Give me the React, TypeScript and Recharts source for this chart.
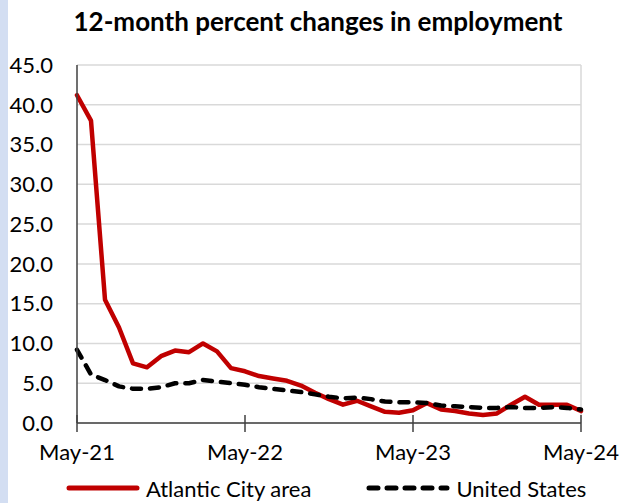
import React from "react";
import {
  LineChart,
  Line,
  XAxis,
  YAxis,
  CartesianGrid,
  Legend,
  ReferenceLine,
} from "recharts";

const FONT = "Lato, 'Open Sans', sans-serif";

// monthly categories, May-21 .. May-24
const months = [
  "May-21", "Jun-21", "Jul-21", "Aug-21", "Sep-21", "Oct-21", "Nov-21", "Dec-21",
  "Jan-22", "Feb-22", "Mar-22", "Apr-22", "May-22", "Jun-22", "Jul-22", "Aug-22",
  "Sep-22", "Oct-22", "Nov-22", "Dec-22", "Jan-23", "Feb-23", "Mar-23", "Apr-23",
  "May-23", "Jun-23", "Jul-23", "Aug-23", "Sep-23", "Oct-23", "Nov-23", "Dec-23",
  "Jan-24", "Feb-24", "Mar-24", "Apr-24", "May-24",
];

const atlanticCity = [
  41.2, 38.0, 15.5, 12.0, 7.5, 7.0, 8.4, 9.1, 8.9, 10.0, 9.0, 6.9, 6.5,
  5.9, 5.6, 5.3, 4.7, 3.8, 3.0, 2.3, 2.8, 2.1, 1.4, 1.3, 1.6, 2.5, 1.7,
  1.5, 1.2, 1.0, 1.2, 2.3, 3.3, 2.3, 2.3, 2.3, 1.5,
];

const unitedStates = [
  9.2, 6.1, 5.4, 4.6, 4.3, 4.3, 4.5, 5.0, 5.0, 5.4, 5.2, 5.0, 4.8,
  4.5, 4.3, 4.1, 3.9, 3.6, 3.3, 3.1, 3.2, 3.0, 2.7, 2.6, 2.6, 2.5, 2.2,
  2.1, 2.0, 1.9, 1.9, 2.0, 1.9, 1.9, 2.0, 1.9, 1.7,
];

const yTicks = [0, 5, 10, 15, 20, 25, 30, 35, 40, 45];

const series = [
  { key: "ac", name: "Atlantic City area", color: "#c00000", dash: undefined },
  { key: "us", name: "United States", color: "#000000", dash: "9 9" },
];

const data = months.map((m, i) => ({
  month: m,
  ac: atlanticCity[i],
  us: unitedStates[i],
}));

// Excel-style "cross" tick mark with label under it
const CrossTick = (props: any) => {
  const { x, y, payload } = props;
  return (
    <g>
      <line x1={x} x2={x} y1={y - 8} y2={y + 9} stroke="#404040" strokeWidth={1.5} />
      <text
        x={x}
        y={y + 37}
        textAnchor="middle"
        fontSize={22}
        fill="#000"
        fontFamily={FONT}
      >
        {payload.value}
      </text>
    </g>
  );
};

const LegendContent = () => (
  <div
    style={{
      display: "flex",
      alignItems: "center",
      height: 30,
      paddingLeft: 66,
      fontFamily: FONT,
      fontSize: 22,
      color: "#000",
      whiteSpace: "nowrap",
    }}
  >
    {series.map((s, i) => (
      <div
        key={s.key}
        style={{ display: "flex", alignItems: "center", marginLeft: i ? 55 : 0 }}
      >
        <svg width={s.dash ? 84 : 74} height={10} style={{ marginRight: 6 }}>
          <line
            x1={3}
            x2={s.dash ? 81 : 71}
            y1={5}
            y2={5}
            stroke={s.color}
            strokeWidth={5}
            strokeLinecap="round"
            strokeDasharray={s.dash}
          />
        </svg>
        <span>{s.name}</span>
      </div>
    ))}
  </div>
);

export default function App() {
  return (
    <div
      style={{
        position: "fixed",
        top: 0,
        left: 0,
        width: 621,
        height: 503,
        background: "#fff",
        overflow: "hidden",
      }}
    >
      <div
        style={{
          position: "absolute",
          left: 0,
          top: 0,
          width: 8,
          height: 503,
          background: "#d3def2",
        }}
      />
      <div
        style={{
          position: "absolute",
          top: 3,
          left: 0,
          width: 636,
          textAlign: "center",
          fontFamily: FONT,
          fontWeight: 700,
          fontSize: 26,
          lineHeight: "36px",
          color: "#000",
          whiteSpace: "nowrap",
        }}
      >
        12-month percent changes in employment
      </div>
      <LineChart
        width={621}
        height={503}
        data={data}
        margin={{ top: 65, right: 40, left: 0, bottom: 0 }}
      >
        <CartesianGrid vertical={false} stroke="#d9d9d9" strokeWidth={1.5} />
        <ReferenceLine x="May-24" stroke="#d9d9d9" strokeWidth={1.5} />
        <XAxis
          dataKey="month"
          interval={11}
          tick={<CrossTick />}
          tickLine={false}
          tickSize={0}
          tickMargin={0}
          height={50}
          axisLine={{ stroke: "#404040", strokeWidth: 1.5 }}
        />
        <YAxis
          domain={[0, 45]}
          ticks={yTicks}
          width={77}
          tickLine={false}
          tickSize={0}
          tickMargin={24}
          tickFormatter={(v: number) => v.toFixed(1)}
          tick={{ fontSize: 22, fill: "#000", fontFamily: FONT }}
          axisLine={{ stroke: "#404040", strokeWidth: 1.5 }}
        />
        <Legend
          verticalAlign="bottom"
          content={<LegendContent />}
          wrapperStyle={{ left: 0, width: 621, bottom: 0 }}
        />
        {series.map((s) => (
          <Line
            key={s.key}
            dataKey={s.key}
            name={s.name}
            type="linear"
            stroke={s.color}
            strokeWidth={4.5}
            strokeDasharray={s.dash}
            strokeLinecap="round"
            strokeLinejoin="round"
            dot={false}
            activeDot={false}
            isAnimationActive={false}
          />
        ))}
      </LineChart>
    </div>
  );
}
